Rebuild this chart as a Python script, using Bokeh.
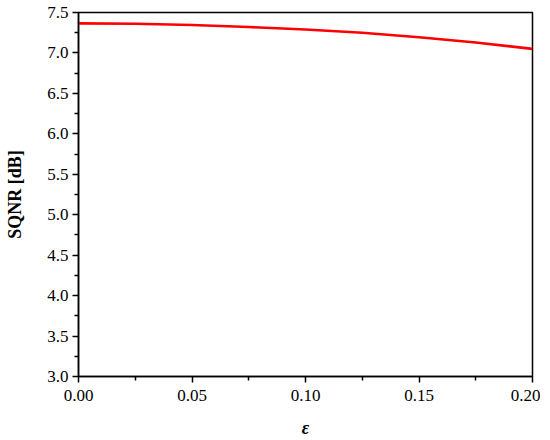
from bokeh.plotting import figure
from bokeh.models import Range1d, FixedTicker, CustomJSTickFormatter
from bokeh.embed import file_html
from bokeh.resources import INLINE

eps = [0.0, 0.025, 0.05, 0.075, 0.1, 0.125, 0.15, 0.175, 0.2]
sqnr = [7.365, 7.36, 7.345, 7.32, 7.29, 7.25, 7.195, 7.13, 7.05]

x_ticks = [0.0, 0.05, 0.1, 0.15, 0.2]
x_minor = [0.025, 0.075, 0.125, 0.175]
y_ticks = [3.0, 3.5, 4.0, 4.5, 5.0, 5.5, 6.0, 6.5, 7.0, 7.5]
y_minor = [3.25, 3.75, 4.25, 4.75, 5.25, 5.75, 6.25, 6.75, 7.25]

p = figure(frame_width=454, frame_height=364, output_backend="svg", toolbar_location=None,
           x_range=Range1d(0, 0.2), y_range=Range1d(3.0, 7.5),
           min_border_left=78, min_border_right=8, min_border_top=12, min_border_bottom=10)

p.line(eps, sqnr, line_color="#ff0000", line_width=2.6)

p.xgrid.visible = False
p.ygrid.visible = False
p.outline_line_color = "black"
p.outline_line_width = 1.5
p.outline_line_alpha = 1.0

font = "Liberation Serif"
for ax in (p.xaxis[0], p.yaxis[0]):
    ax.axis_line_width = 1.5
    ax.major_tick_line_width = 1.5
    ax.minor_tick_line_width = 1.5
    ax.major_tick_out = 6
    ax.major_tick_in = 0
    ax.minor_tick_out = 4
    ax.minor_tick_in = 0
    ax.major_label_text_font = font
    ax.major_label_text_font_size = "17px"
    ax.major_label_text_color = "black"
    ax.axis_label_text_font = font
    ax.axis_label_text_font_style = "bold"
    ax.axis_label_text_font_size = "18px"
    ax.axis_label_text_color = "black"

p.xaxis[0].ticker = FixedTicker(ticks=x_ticks, minor_ticks=x_minor)
p.yaxis[0].ticker = FixedTicker(ticks=y_ticks, minor_ticks=y_minor)
p.xaxis[0].formatter = CustomJSTickFormatter(code="return tick.toFixed(2);")
p.yaxis[0].formatter = CustomJSTickFormatter(code="return tick.toFixed(1);")
p.xaxis[0].axis_label = "ε"
p.xaxis[0].axis_label_text_font_style = "bold italic"
p.xaxis[0].axis_label_standoff = 14
p.xaxis[0].major_label_standoff = 7
p.yaxis[0].axis_label = "SQNR [dB]"
p.yaxis[0].axis_label_standoff = 19
p.yaxis[0].major_label_standoff = 4

open("out.html", "w").write(file_html(p, INLINE))
